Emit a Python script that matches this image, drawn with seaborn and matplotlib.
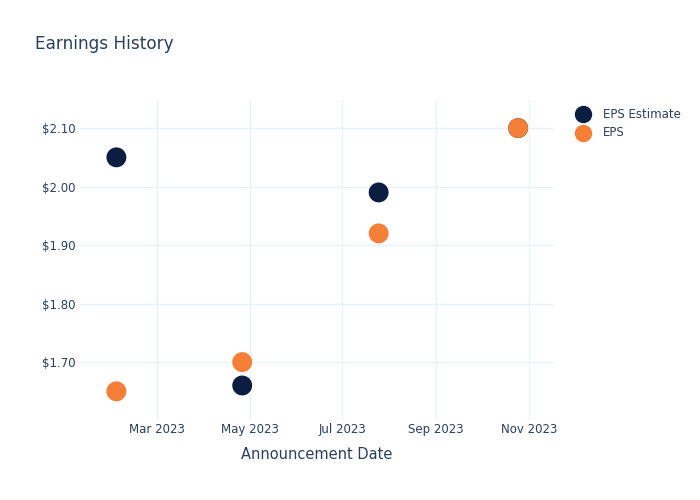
import matplotlib
matplotlib.use("Agg")
import matplotlib.pyplot as plt
import matplotlib.dates as mdates
from matplotlib.lines import Line2D
import seaborn as sns
import pandas as pd

dates = ["2023-02-02", "2023-04-26", "2023-07-25", "2023-10-25"]
eps_estimate = [2.05, 1.66, 1.99, 2.10]
eps_actual = [1.65, 1.70, 1.92, 2.10]
series_names = ["EPS Estimate", "EPS"]
colors = ["#0b1e42", "#f57f37"]
yticks = [1.70, 1.80, 1.90, 2.00, 2.10]

df = pd.DataFrame({
    "date": pd.to_datetime(dates * 2),
    "value": eps_estimate + eps_actual,
    "series": [series_names[0]] * 4 + [series_names[1]] * 4,
})

sns.set_theme(style="white")
plt.rcParams["font.family"] = ["DejaVu Sans"]
text_color = "#2a3f5f"
grid_color = "#ebf0f8"

fig = plt.figure(figsize=(7, 5), dpi=100)
ax = fig.add_axes([80/700, 80/500, 473/700, 320/500])

sns.scatterplot(data=df, x="date", y="value", hue="series", palette=colors,
                s=205, edgecolor="none", ax=ax, zorder=3, legend=False)

ax.set_xlim(pd.Timestamp("2023-01-09"), pd.Timestamp("2023-11-17"))
ax.set_ylim(1.601, 2.148)
ax.set_yticks(yticks)
ax.set_yticklabels([f"${v:.2f}" for v in yticks])
ax.xaxis.set_major_locator(mdates.MonthLocator(bymonth=[3, 5, 7, 9, 11]))
ax.xaxis.set_major_formatter(mdates.DateFormatter("%b %Y"))
ax.grid(True, color=grid_color, linewidth=1)
ax.set_axisbelow(True)
for s in ax.spines.values():
    s.set_visible(False)
ax.tick_params(axis="both", length=0, labelsize=8.5, colors=text_color)
ax.tick_params(axis="x", pad=2)
ax.tick_params(axis="y", pad=3)
ax.set_xlabel("Announcement Date", fontsize=10.5, color=text_color, labelpad=8)
ax.set_ylabel("")

fig.text(35/700, 1 - 44/500, "Earnings History", fontsize=12.2, color=text_color, va="center")

# legend
for i, (name, c) in enumerate(zip(series_names, colors)):
    y = 1 - (114 + 19 * i) / 500
    fig.add_artist(Line2D([583/700], [y], marker="o", markersize=11.5,
                          color=c, linestyle="none", transform=fig.transFigure))
    fig.text(603/700, y, name, fontsize=8.5, color=text_color, va="center")

fig.savefig("out.png", dpi=100)
